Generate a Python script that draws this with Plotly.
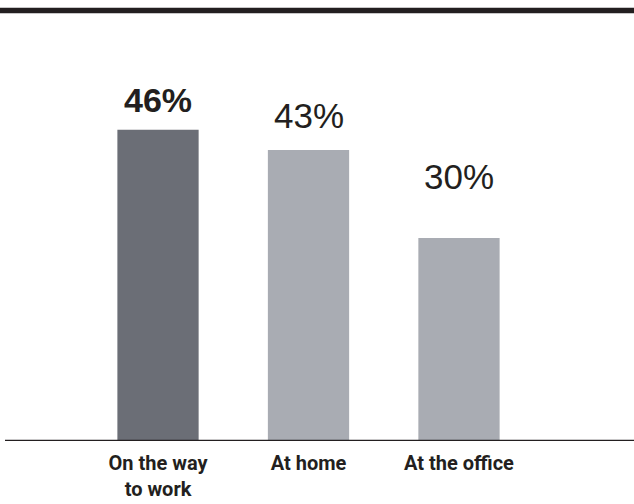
import plotly.graph_objects as go

categories = ["On the way<br>to work", "At home", "At the office"]
values = [46, 43, 30]
value_labels = ["46%", "43%", "30%"]
bar_colors = ["#6b6e76", "#a9acb3", "#a9acb3"]
label_bold = [True, False, False]
label_shift = [9, 13, 40]  # px gap between bar top and label

fig = go.Figure()
fig.add_trace(go.Bar(
    x=list(range(len(categories))), y=values,
    marker=dict(color=bar_colors, line=dict(width=0)),
    width=0.54, hoverinfo="skip",
))

for i, (v, t, b, s) in enumerate(zip(values, value_labels, label_bold, label_shift)):
    fig.add_annotation(
        x=i, y=v, text=f"<b>{t}</b>" if b else t, showarrow=False,
        xanchor="center", yanchor="bottom", yshift=s,
        font=dict(family="Liberation Sans Narrow, Arial, sans-serif" if b else "Liberation Sans, Arial, sans-serif",
                  size=34 if b else 35, color="#231f20"),
    )

# top rule and baseline
fig.add_shape(type="line", xref="paper", yref="paper", x0=0, x1=1,
              y0=1 + (35 - 10.5) / 406, y1=1 + (35 - 10.5) / 406,
              line=dict(color="#231f20", width=5.5))
fig.add_shape(type="line", xref="paper", yref="y", x0=5 / 634, x1=1, y0=0, y1=0,
              line=dict(color="#231f20", width=2.5))

fig.update_layout(
    width=634, height=504,
    margin=dict(l=0, r=0, t=35, b=63),
    paper_bgcolor="white", plot_bgcolor="white",
    showlegend=False,
    xaxis=dict(
        range=[-1.05, 3.163], tickmode="array",
        tickvals=list(range(len(categories))),
        ticktext=[f"<b>{c}</b>" for c in categories],
        tickfont=dict(family="Liberation Sans Narrow, Arial Narrow, Roboto, sans-serif", size=20, color="#231f20"),
        ticklabelstandoff=8,
        showgrid=False, zeroline=False, showline=False, ticks="",
    ),
    yaxis=dict(range=[0, 60], visible=False, showgrid=False, zeroline=False),
)

fig.write_html("out.html", config={"displayModeBar": False},
               post_script="document.body.style.margin='0';")
